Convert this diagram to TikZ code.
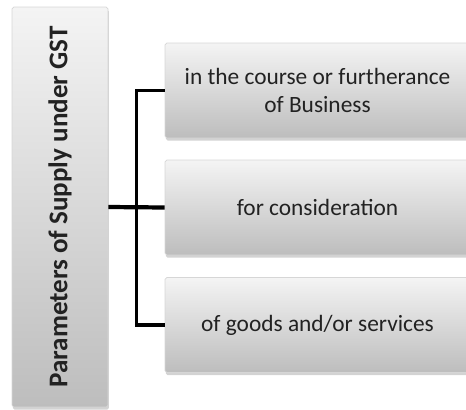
\documentclass[tikz,border=0pt]{standalone}
\usepackage{fontspec}
\setmainfont{Carlito}
\usepackage{tikz}
\usetikzlibrary{shadows}
\definecolor{BoxTop}{HTML}{F4F4F4}
\definecolor{BoxBottom}{HTML}{BDBDBD}
\definecolor{BoxEdge}{HTML}{D6D6D6}
\definecolor{Ink}{HTML}{222222}
\begin{document}
\begin{tikzpicture}[
  x=0.02cm,y=-0.02cm,
  box/.style={draw=BoxEdge,top color=BoxTop,bottom color=BoxBottom,rounded corners=1pt,
    drop shadow={shadow xshift=0.5pt,shadow yshift=-1.5pt,opacity=0.35},
    text=Ink,align=center,inner sep=0pt},
  head/.style={box,minimum width=96*0.02cm,minimum height=400*0.02cm},
  cond/.style={box,minimum width=305*0.02cm,minimum height=95*0.02cm,font=\fontsize{13.3}{16}\selectfont},
  link/.style={line width=1.8pt,color=black}
]
\useasboundingbox (0,0) rectangle (466,409);
\node[head] (param) at (60,207) {};
\node[rotate=90,font=\fontsize{15.4}{18}\selectfont\bfseries,text=Ink] (title) at (param.center) {Parameters of Supply under GST};
\node[cond] (course) at (317.5,90.5) {in the course or furtherance\\of Business};
\node[cond] (consid) at (317.5,207.5) {for consideration};
\node[cond] (goods) at (317.5,325) {of goods and/or services};
\draw[link,line width=2.4pt] (param.east) -- (consid.west);
\draw[link] (course.west) -- ++(-28,0) |- (goods.west);
\end{tikzpicture}
\end{document}
